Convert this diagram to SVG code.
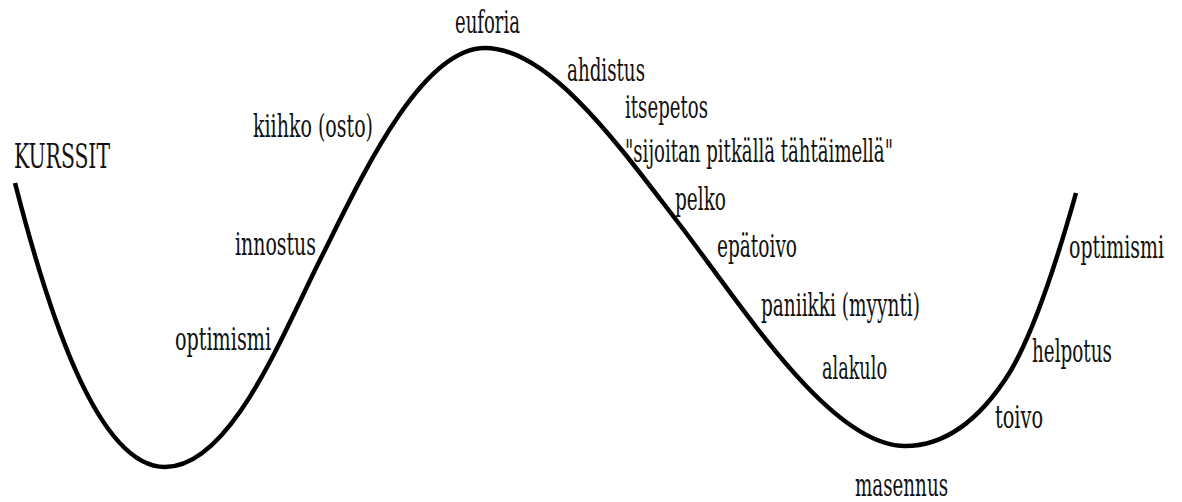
<svg xmlns="http://www.w3.org/2000/svg" width="1182" height="502" viewBox="0 0 1182 502">
<style>
.curve{fill:none;stroke:#000;stroke-width:4.5;stroke-linecap:butt;stroke-linejoin:round}
.lbl{font-family:"DejaVu Serif Condensed","DejaVu Serif",serif;font-stretch:condensed;font-size:32px;fill:#111}
</style>
<rect width="1182" height="502" fill="#fff"/>
<g id="connectors">
<path class="curve" d="M15,183 C45,300 95,467 165,467 C230,467 280,340 320,260 C360,180 420,48 485,48 C550,48 620,147 680,225 C740,303 830,446 905,446 C945,446 980,420 1010,372 C1035,330 1060,250 1076,193"/>
</g>
<g id="labels">
<g id="n-kurssit"><text class="lbl" x="14" y="168" style="font-size:34px" textLength="96" lengthAdjust="spacingAndGlyphs">KURSSIT</text></g>
<g id="n-optimismi1"><text class="lbl" x="175" y="350" textLength="96" lengthAdjust="spacingAndGlyphs">optimismi</text></g>
<g id="n-innostus"><text class="lbl" x="235" y="255" textLength="81" lengthAdjust="spacingAndGlyphs">innostus</text></g>
<g id="n-kiihko"><text class="lbl" x="253" y="137" textLength="120" lengthAdjust="spacingAndGlyphs">kiihko (osto)</text></g>
<g id="n-euforia"><text class="lbl" x="455" y="33" textLength="65" lengthAdjust="spacingAndGlyphs">euforia</text></g>
<g id="n-ahdistus"><text class="lbl" x="567" y="81" textLength="78" lengthAdjust="spacingAndGlyphs">ahdistus</text></g>
<g id="n-itsepetos"><text class="lbl" x="625" y="118" textLength="83" lengthAdjust="spacingAndGlyphs">itsepetos</text></g>
<g id="n-sijoitan"><text class="lbl" x="625" y="162" textLength="268" lengthAdjust="spacingAndGlyphs">"sijoitan pitkällä tähtäimellä"</text></g>
<g id="n-pelko"><text class="lbl" x="675" y="210" textLength="51" lengthAdjust="spacingAndGlyphs">pelko</text></g>
<g id="n-epatoivo"><text class="lbl" x="717" y="257" textLength="80" lengthAdjust="spacingAndGlyphs">epätoivo</text></g>
<g id="n-paniikki"><text class="lbl" x="761" y="316" textLength="159" lengthAdjust="spacingAndGlyphs">paniikki (myynti)</text></g>
<g id="n-alakulo"><text class="lbl" x="822" y="379" textLength="65" lengthAdjust="spacingAndGlyphs">alakulo</text></g>
<g id="n-masennus"><text class="lbl" x="855" y="496" textLength="93" lengthAdjust="spacingAndGlyphs">masennus</text></g>
<g id="n-toivo"><text class="lbl" x="995" y="428" textLength="48" lengthAdjust="spacingAndGlyphs">toivo</text></g>
<g id="n-helpotus"><text class="lbl" x="1032" y="362" textLength="80" lengthAdjust="spacingAndGlyphs">helpotus</text></g>
<g id="n-optimismi2"><text class="lbl" transform="translate(1069,258) scale(0.7,1)" x="0" y="0" textLength="135.7" lengthAdjust="spacingAndGlyphs">optimismi</text></g>
</g>
</svg>
